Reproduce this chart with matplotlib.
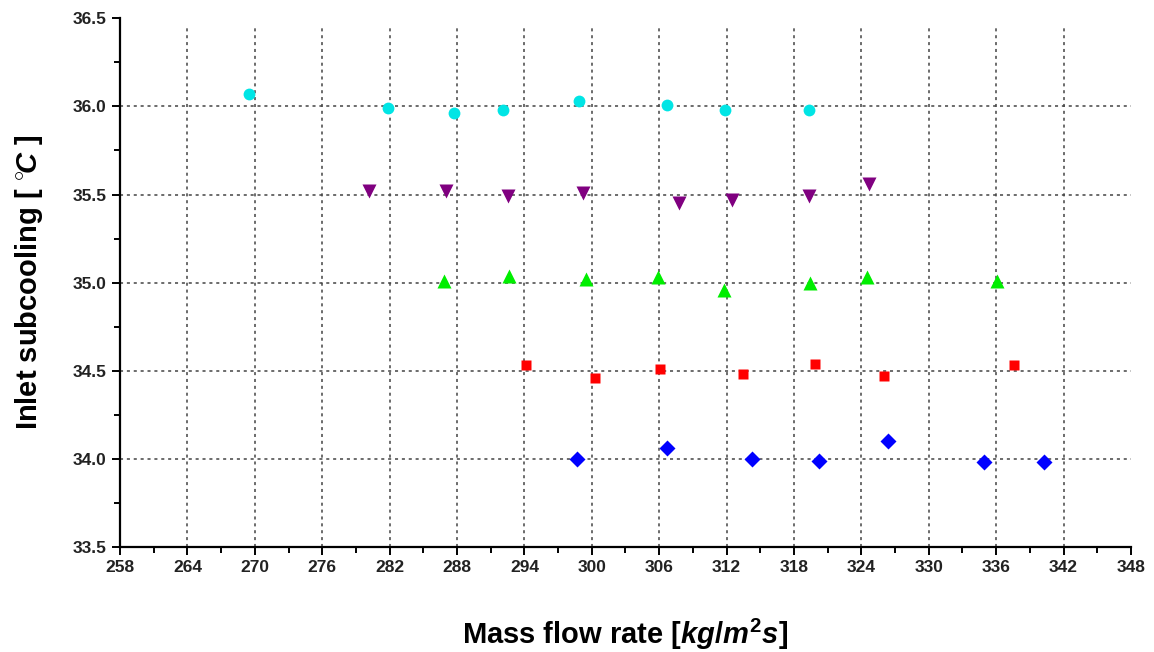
import matplotlib
matplotlib.use('Agg')
import matplotlib.pyplot as plt
from matplotlib.ticker import MultipleLocator, FormatStrFormatter

plt.rcParams['font.family'] = ['Liberation Sans', 'DejaVu Sans']
plt.rcParams['mathtext.fontset'] = 'custom'
plt.rcParams['mathtext.rm'] = 'Liberation Sans:bold'
plt.rcParams['mathtext.it'] = 'Liberation Sans:bold:italic'
plt.rcParams['mathtext.bf'] = 'Liberation Sans:bold'

# cyan circles
x_circle = [269.5, 281.9, 287.7, 292.1, 298.9, 306.7, 311.9, 319.3]
y_circle = [36.07, 35.99, 35.96, 35.98, 36.03, 36.01, 35.98, 35.98]

# purple down-triangles
x_tri_down = [280.2, 287.0, 292.5, 299.2, 307.8, 312.5, 319.3, 324.7]
y_tri_down = [35.52, 35.52, 35.49, 35.51, 35.45, 35.47, 35.49, 35.56]

# green up-triangles
x_tri_up = [286.8, 292.6, 299.5, 305.9, 311.8, 319.4, 324.5, 336.1]
y_tri_up = [35.01, 35.04, 35.02, 35.03, 34.96, 35.00, 35.03, 35.01]

# red squares
x_square = [294.1, 300.3, 306.1, 313.5, 319.9, 326.0, 337.6]
y_square = [34.53, 34.46, 34.51, 34.48, 34.54, 34.47, 34.53]

# blue diamonds
x_diamond = [298.7, 306.7, 314.3, 320.2, 326.4, 334.9, 340.3]
y_diamond = [34.00, 34.06, 34.00, 33.99, 34.10, 33.98, 33.98]

fig = plt.figure(figsize=(11.54, 6.52), dpi=100)
ax = fig.add_axes([0.104, 0.161, 0.876, 0.811])

ax.set_xlim(258, 348)
ax.set_ylim(33.5, 36.5)
ax.xaxis.set_major_locator(MultipleLocator(6))
ax.xaxis.set_minor_locator(MultipleLocator(3))
ax.yaxis.set_major_locator(MultipleLocator(0.5))
ax.yaxis.set_minor_locator(MultipleLocator(0.25))
ax.yaxis.set_major_formatter(FormatStrFormatter('%.1f'))

# dotted grid on the inner major ticks only
grid_style = dict(linestyles=[(0, (2, 2.5))], colors='#444444', linewidth=1.1, zorder=1)
xs = [t for t in ax.xaxis.get_majorticklocs() if 258 < t < 348]
ys = [t for t in ax.yaxis.get_majorticklocs() if 33.5 < t < 36.5]
ax.vlines(xs, 33.5, 36.46, **grid_style)
ax.hlines(ys, 258, 348, **grid_style)

ax.plot(x_circle, y_circle, 'o', color='#00E5E5', ms=8.5, mec='none', zorder=3)
ax.plot(x_tri_down, y_tri_down, 'v', color='#800080', ms=10, mec='none', zorder=3)
ax.plot(x_tri_up, y_tri_up, '^', color='#00EE00', ms=10, mec='none', zorder=3)
ax.plot(x_square, y_square, 's', color='#FF0000', ms=7.5, mec='none', zorder=3)
ax.plot(x_diamond, y_diamond, 'D', color='#0000FF', ms=8, mec='none', zorder=3)

ax.set_xlim(258, 348)
ax.set_ylim(33.5, 36.5)

for side in ['top', 'right']:
    ax.spines[side].set_visible(False)
for side in ['left', 'bottom']:
    ax.spines[side].set_linewidth(1.6)

ax.tick_params(which='major', direction='out', length=6, width=1.4, labelsize=12.5)
ax.tick_params(which='minor', direction='out', length=4, width=1.4)
for lbl in ax.get_xticklabels() + ax.get_yticklabels():
    lbl.set_fontweight('bold')
    lbl.set_color('#222222')

ax.set_xlabel('Mass flow rate [$kg/m^2s$]', fontsize=21, fontweight='bold', labelpad=30)
ax.set_ylabel('Inlet subcooling [ $^{\\circ}\\!C$ ]', fontsize=21, fontweight='bold', labelpad=20)

fig.savefig('out.png', dpi=100)
plt.close(fig)
